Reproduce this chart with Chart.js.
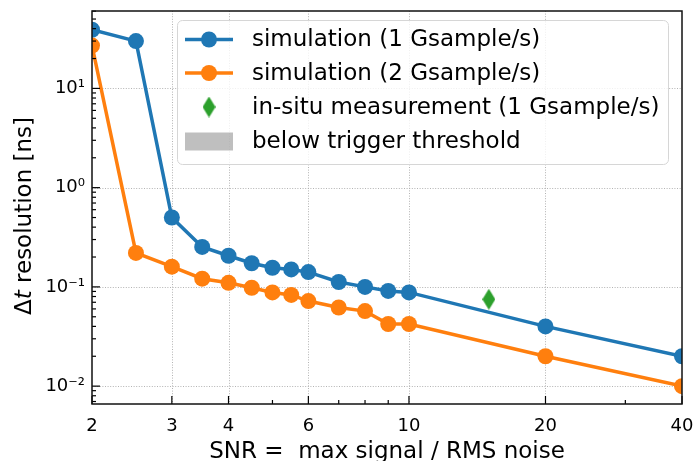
<!DOCTYPE html>
<html>
<head>
<meta charset="utf-8">
<script src="https://cdn.jsdelivr.net/npm/chart.js@4.4.1/dist/chart.umd.min.js"></script>
<style>
  html, body { margin: 0; padding: 0; background: #ffffff; }
  #wrap { width: 695px; height: 461px; }
</style>
</head>
<body>
<div id="wrap"><canvas id="c" width="695" height="461"></canvas></div>
<script>
// ---- data ----
const snr = [2, 2.5, 3, 3.5, 4, 4.5, 5, 5.5, 6, 7, 8, 9, 10, 20, 40];
const sim1G = [39, 30, 0.5, 0.253, 0.206, 0.173, 0.156, 0.150, 0.141, 0.112, 0.100, 0.091, 0.088, 0.040, 0.020];
const sim2G = [27, 0.22, 0.16, 0.121, 0.110, 0.098, 0.088, 0.083, 0.072, 0.062, 0.057, 0.0423, 0.0423, 0.020, 0.010];
const insituSNR = [15];
const insituRes = [0.075];
const seriesLabels = ['simulation (1 Gsample/s)', 'simulation (2 Gsample/s)', 'in-situ measurement (1 Gsample/s)', 'below trigger threshold'];
const xTicks = [2, 3, 4, 6, 10, 20, 40];
const xMinorTicks = [5, 7, 8, 9, 30];
const yTicks = [0.01, 0.1, 1, 10];
const yTickLabels = ['10\u207B\u00B2', '10\u207B\u00B9', '10\u2070', '10\u00B9'];
const xTitle = 'SNR =  max signal / RMS noise';

const FONT = "'DejaVu Sans', sans-serif";
const C_BLUE = '#1f77b4', C_ORANGE = '#ff7f0e', C_GREEN = '#2ca02c', C_GRAY = 'rgba(128,128,128,0.5)';

// thin diamond marker
function makeDiamond(w, h, color) {
  const cv = document.createElement('canvas');
  cv.width = w; cv.height = h;
  const g = cv.getContext('2d');
  g.fillStyle = color;
  g.beginPath();
  g.moveTo(w / 2, 0); g.lineTo(w, h / 2); g.lineTo(w / 2, h); g.lineTo(0, h / 2);
  g.closePath(); g.fill();
  return cv;
}
const diamond = makeDiamond(13, 21, C_GREEN);

const toXY = (xs, ys) => xs.map((x, i) => ({ x: x, y: ys[i] }));

const yMinorTicks = [];
for (let e = -3; e <= 1; e++) for (let m = 2; m <= 9; m++) yMinorTicks.push(m * Math.pow(10, e));

const framePlugin = {
  id: 'frame',
  beforeDatasetsDraw(chart) {
    const ctx = chart.ctx, a = chart.chartArea;
    const xs = chart.scales.x, ys = chart.scales.y;
    ctx.save();
    ctx.strokeStyle = '#aaaaaa';
    ctx.lineWidth = 0.9;
    ctx.setLineDash([1, 1.6]);
    xTicks.forEach(v => {
      const px = Math.round(xs.getPixelForValue(v)) + 0.5;
      if (px <= a.left + 1 || px >= a.right - 1) return;
      ctx.beginPath(); ctx.moveTo(px, a.top); ctx.lineTo(px, a.bottom); ctx.stroke();
    });
    yTicks.forEach(v => {
      const py = Math.round(ys.getPixelForValue(v)) + 0.5;
      if (py <= a.top + 1 || py >= a.bottom - 1) return;
      ctx.beginPath(); ctx.moveTo(a.left, py); ctx.lineTo(a.right, py); ctx.stroke();
    });
    ctx.restore();
  },
  afterDatasetsDraw(chart) {
    const ctx = chart.ctx, a = chart.chartArea;
    const xs = chart.scales.x, ys = chart.scales.y;
    ctx.save();
    ctx.strokeStyle = '#000';
    ctx.lineWidth = 1.2;
    const tick = (x1, y1, x2, y2) => { ctx.beginPath(); ctx.moveTo(x1, y1); ctx.lineTo(x2, y2); ctx.stroke(); };
    xTicks.forEach(v => { const px = xs.getPixelForValue(v); tick(px, a.bottom, px, a.bottom - 8); });
    xMinorTicks.forEach(v => { const px = xs.getPixelForValue(v); tick(px, a.bottom, px, a.bottom - 4); });
    yTicks.forEach(v => { const py = ys.getPixelForValue(v); tick(a.left, py, a.left + 8, py); });
    yMinorTicks.forEach(v => {
      const py = ys.getPixelForValue(v);
      if (py < a.top || py > a.bottom) return;
      tick(a.left, py, a.left + 4, py);
    });
    ctx.lineWidth = 1.5;
    ctx.strokeStyle = '#111';
    ctx.strokeRect(a.left, a.top, a.right - a.left, a.bottom - a.top);
    ctx.restore();
  },
  afterDraw(chart) {
    const ctx = chart.ctx, a = chart.chartArea;
    ctx.save();
    ctx.fillStyle = '#000';
    // x title
    ctx.font = '23px ' + FONT;
    ctx.textAlign = 'center';
    ctx.textBaseline = 'alphabetic';
    ctx.fillText(xTitle, (a.left + a.right) / 2, 458);
    // y title with italic t
    const parts = [['\u0394', '23px ' + FONT], ['t', 'italic 23px ' + FONT], [' resolution [ns]', '23px ' + FONT]];
    let total = 0;
    parts.forEach(p => { ctx.font = p[1]; total += ctx.measureText(p[0]).width; });
    ctx.translate(31, 216);
    ctx.rotate(-Math.PI / 2);
    let cx = -total / 2;
    ctx.textAlign = 'left';
    parts.forEach(p => { ctx.font = p[1]; ctx.fillText(p[0], cx, 0); cx += ctx.measureText(p[0]).width; });
    ctx.restore();

    // legend
    ctx.save();
    const L = { x: 177, y: 20, w: 491, h: 144, r: 5 };
    ctx.beginPath();
    ctx.roundRect(L.x + 0.5, L.y + 0.5, L.w, L.h, L.r);
    ctx.fillStyle = 'rgba(255,255,255,0.8)';
    ctx.fill();
    ctx.strokeStyle = '#d6d6d6';
    ctx.lineWidth = 1;
    ctx.stroke();
    const rows = [39.5, 73, 107, 141.5];
    const ds = chart.data.datasets;
    ctx.font = '23px ' + FONT;
    ctx.textBaseline = 'middle';
    ctx.textAlign = 'left';
    rows.forEach((ry, i) => {
      const d = ds[i];
      if (i < 2) {
        ctx.strokeStyle = d.borderColor; ctx.lineWidth = 3.5;
        ctx.beginPath(); ctx.moveTo(185, ry); ctx.lineTo(233, ry); ctx.stroke();
        ctx.fillStyle = d.backgroundColor;
        ctx.beginPath(); ctx.arc(209, ry, 8, 0, Math.PI * 2); ctx.fill();
      } else if (i === 2) {
        ctx.drawImage(diamond, 209 - diamond.width / 2, ry - diamond.height / 2);
      } else {
        ctx.fillStyle = d.backgroundColor;
        ctx.fillRect(185, ry - 9, 48, 18);
      }
      ctx.fillStyle = '#000';
      ctx.fillText(d.label, 252, ry + 1);
    });
    ctx.restore();
  }
};

new Chart(document.getElementById('c'), {
  type: 'line',
  data: {
    datasets: [
      { label: seriesLabels[0], data: toXY(snr, sim1G), borderColor: C_BLUE, backgroundColor: C_BLUE,
        borderWidth: 3.5, pointRadius: 8, pointHoverRadius: 8, pointBorderWidth: 0, clip: 0, order: 2 },
      { label: seriesLabels[1], data: toXY(snr, sim2G), borderColor: C_ORANGE, backgroundColor: C_ORANGE,
        borderWidth: 3.5, pointRadius: 8, pointHoverRadius: 8, pointBorderWidth: 0, clip: 0, order: 1 },
      { label: seriesLabels[2], data: toXY(insituSNR, insituRes), showLine: false, borderColor: C_GREEN,
        backgroundColor: C_GREEN, pointStyle: diamond, pointRadius: 10, clip: 0, order: 0 },
      { label: seriesLabels[3], data: [], borderColor: C_GRAY, backgroundColor: C_GRAY, showLine: false, order: 3 }
    ]
  },
  options: {
    responsive: false,
    animation: false,
    devicePixelRatio: 1,
    layout: { padding: { top: 8, right: 13, left: 0, bottom: 0 } },
    plugins: { legend: { display: false }, tooltip: { enabled: false } },
    elements: { line: { tension: 0 } },
    scales: {
      x: {
        type: 'logarithmic', min: 2, max: 40,
        afterBuildTicks: s => { s.ticks = xTicks.map(v => ({ value: v })); },
        afterFit: s => { s.height = 57; s.paddingLeft = 0; s.paddingRight = 0; },
        grid: { display: false, drawTicks: false },
        border: { display: false },
        ticks: { autoSkip: false, maxRotation: 0, padding: 12, color: '#000',
          font: { family: FONT, size: 18 }, callback: v => String(v) }
      },
      y: {
        type: 'logarithmic', min: Math.pow(10, -2.18), max: Math.pow(10, 1.78),
        afterBuildTicks: s => { s.ticks = yTicks.map(v => ({ value: v })); },
        afterFit: s => { s.width = 92; s.paddingTop = 0; s.paddingBottom = 0; },
        grid: { display: false, drawTicks: false },
        border: { display: false },
        ticks: { autoSkip: false, padding: 7, color: '#000',
          font: { family: FONT, size: 18 },
          callback: v => { const i = yTicks.findIndex(t => Math.abs(t - v) / t < 1e-6); return i >= 0 ? yTickLabels[i] : ''; } }
      }
    }
  },
  plugins: [framePlugin]
});
</script>
</body>
</html>
